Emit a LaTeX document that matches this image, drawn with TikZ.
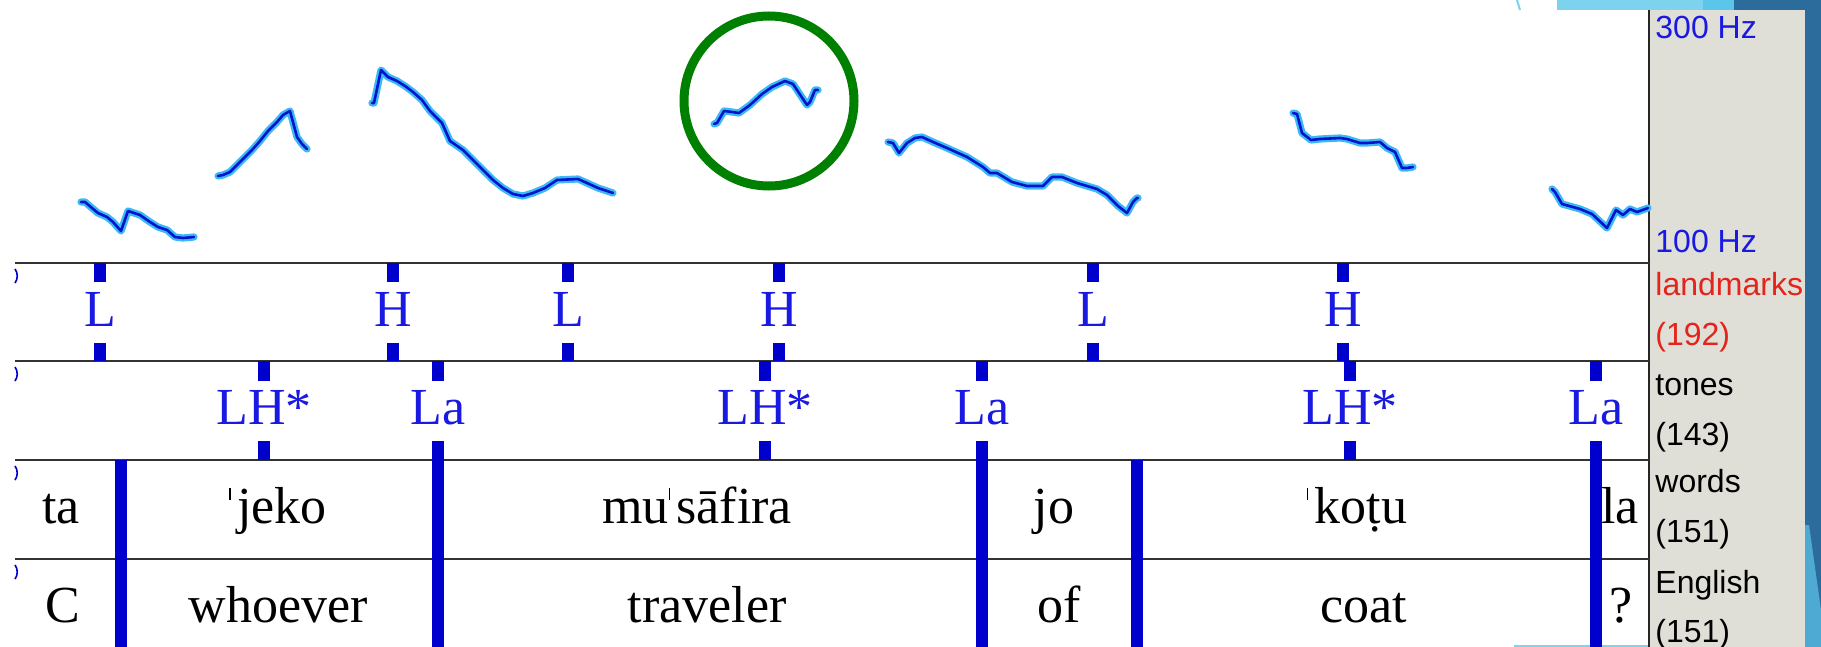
\documentclass[tikz,border=0pt]{standalone}
\usepackage{fontspec}
\setmainfont{Liberation Serif}
\newfontfamily\panelfont{Liberation Sans}
\usepackage{xcolor}
\usetikzlibrary{positioning,calc}

\definecolor{tierblue}{RGB}{0,0,205}
\definecolor{textblue}{RGB}{25,25,225}
\definecolor{pitchblue}{RGB}{0,20,205}
\definecolor{pitchglow}{RGB}{60,185,245}
\definecolor{panelgray}{RGB}{223,223,216}
\definecolor{slideblue}{RGB}{44,108,156}
\definecolor{slidelight}{RGB}{125,210,238}
\definecolor{slidemid}{RGB}{92,197,234}
\definecolor{markred}{RGB}{228,35,27}
\definecolor{circlegreen}{RGB}{0,128,0}

% acento primario
\newcommand{\strs}{\rule[0.44em]{0.03em}{0.24em}\kern0.12em}

\begin{document}
\begin{tikzpicture}[x=0.5pt, y=-0.5pt]
  % Estilos
  \tikzstyle{tierline}=[draw=black!80, line width=1.2pt]
  \tikzstyle{tickbar}=[draw=tierblue, line width=6pt]
  \tikzstyle{tone}=[text=textblue, font=\fontsize{26}{26}\selectfont, anchor=base, inner sep=0pt]
  \tikzstyle{word}=[text=black, font=\fontsize{26}{26}\selectfont, anchor=base, inner sep=0pt]
  \tikzstyle{tiername}=[font=\panelfont\fontsize{16}{16}\selectfont, anchor=base west, inner sep=0pt]
  \tikzstyle{pitch}=[draw=pitchblue, line width=1.3pt, line join=round, line cap=round,
    preaction={draw=pitchglow, line width=3.6pt, line join=round, line cap=round}]

  \useasboundingbox (0,0) rectangle (1821,647);
  \fill[white] (0,0) rectangle (1821,647);

  % Fondo de la diapositiva
  \fill[slidelight] (1557,0) rectangle (1703,10);
  \fill[slidemid] (1703,0) rectangle (1734,10);
  \fill[slideblue] (1734,0) rectangle (1821,10);
  \draw[slidelight, line width=1pt] (1517,0) -- (1520,10);
  \draw[slidelight, line width=1pt] (1514,646) -- (1805,646);

  % Panel lateral
  \fill[panelgray] (1649,10) rectangle (1805,647);
  \node[tiername, text=textblue] (hz300) at (1655,39) {300 Hz};
  \node[tiername, text=textblue] (hz100) at (1655,252) {100 Hz};
  \node[tiername, text=markred] (lmname) at (1655,295) {landmarks};
  \node[tiername, text=markred] (lmcount) at (1655,345) {(192)};
  \node[tiername] (tnname) at (1655,395) {tones};
  \node[tiername] (tncount) at (1655,445) {(143)};
  \node[tiername] (wdname) at (1655,492) {words};
  \node[tiername] (wdcount) at (1655,542) {(151)};
  \node[tiername] (enname) at (1655,593) {English};
  \node[tiername] (encount) at (1655,642) {(151)};
  \fill[slideblue] (1805,10) rectangle (1821,647);
  \fill[slidemid!70!slideblue] (1805,525) -- (1809,525) -- (1821,610) -- (1821,647) -- (1805,647) -- cycle;
  \draw[black!85, line width=1.2pt] (1649,10) -- (1649,647);

  % Lineas de los niveles
  \foreach \y in {263,361,460,559} {
    \draw[tierline] (15,\y) -- (1649,\y);
    \draw[tierblue, line width=0.8pt] (15,{\y+6}) .. controls (18,{\y+10}) and (18,{\y+16}) .. (15,{\y+20});
  }

  % Curva de F0
  \draw[pitch] (81,202) -- (85,202) -- (92,208) -- (98,213) -- (107,217) -- (113,222) -- (121,231)
    -- (128,211) -- (140,215) -- (150,222) -- (158,227) -- (167,230) -- (175,237) -- (183,238) -- (194,237);
  \draw[pitch] (218,176) -- (223,175) -- (230,172) -- (237,165) -- (243,159) -- (252,150) -- (260,141)
    -- (268,131) -- (277,122) -- (283,115) -- (290,111) -- (297,137) -- (302,144) -- (307,149);
  \draw[pitch] (372,103) -- (374,103) -- (381,70) -- (388,77) -- (397,81) -- (405,86) -- (413,92)
    -- (422,100) -- (430,111) -- (442,123) -- (450,141) -- (463,150) -- (473,160) -- (483,170)
    -- (493,180) -- (503,188) -- (513,194) -- (523,196) -- (533,193) -- (545,188) -- (557,180)
    -- (578,179) -- (587,183) -- (598,188) -- (613,193);
  \draw[pitch] (714,124) -- (717,123) -- (724,111) -- (732,112) -- (739,113) -- (750,105) -- (762,94)
    -- (772,87) -- (785,81) -- (793,84) -- (807,105) -- (810,102) -- (815,90) -- (818,90);
  \draw[pitch] (888,142) -- (893,143) -- (899,153) -- (907,143) -- (915,138) -- (922,137) -- (933,142)
    -- (947,148) -- (967,157) -- (983,167) -- (990,173) -- (997,173) -- (1012,182) -- (1027,186)
    -- (1043,186) -- (1052,177) -- (1062,177) -- (1077,183) -- (1097,189) -- (1107,195) -- (1118,206)
    -- (1127,213) -- (1133,202) -- (1137,198) -- (1138,198);
  \draw[pitch] (1293,113) -- (1297,114) -- (1302,133) -- (1311,140) -- (1320,139) -- (1340,138)
    -- (1347,139) -- (1360,143) -- (1367,143) -- (1380,142) -- (1387,148) -- (1395,152) -- (1402,168)
    -- (1407,168) -- (1413,167);
  \draw[pitch] (1552,189) -- (1555,192) -- (1562,204) -- (1580,209) -- (1592,214) -- (1607,228)
    -- (1616,210) -- (1623,215) -- (1630,209) -- (1637,212) -- (1648,208);

  % Circulo verde
  \node[draw=circlegreen, circle, line width=4.5pt, minimum size=85pt, inner sep=0pt] (focus) at (769,101) {};

  % Nivel landmarks
  \foreach \x/\t/\n in {100/L/lm1, 393/H/lm2, 568/L/lm3, 779/H/lm4, 1093/L/lm5, 1343/H/lm6} {
    \node[tone] (\n) at (\x,326) {\t};
    \draw[tickbar] (\x,263) -- (\x,282) (\x,343) -- (\x,361);
  }

  % Nivel tones
  \foreach \x/\t/\n in {264/LH*/tn1, 438/La/tn2, 765/LH*/tn3, 982/La/tn4, 1350/LH*/tn5, 1596/La/tn6} {
    \node[tone] (\n) at (\x,424) {\t};
    \draw[tickbar] (\x,361) -- (\x,381) (\x,441) -- (\x,460);
  }

  % Limites de palabras
  \foreach \x in {121,438,982,1137,1596}
    \draw[tickbar] (\x,460) -- (\x,647);

  % Palabras
  \node[word] (w1) at (61,523) {ta};
  \node[word] (w2) at (278,523) {\strs jeko};
  \node[word] (w3) at (697,523) {mu\strs sāfira};
  \node[word] (w4) at (1054,523) {jo};
  \node[word] (w5) at (1357,523) {\strs koṭu};
  \node[word] (w6) at (1620,523) {la};

  % Glosas
  \node[word] (g1) at (63,622) {C};
  \node[word] (g2) at (278,622) {whoever};
  \node[word] (g3) at (707,622) {traveler};
  \node[word] (g4) at (1059,622) {of};
  \node[word] (g5) at (1364,622) {coat};
  \node[word] (g6) at (1621,622) {?};
\end{tikzpicture}
\end{document}
